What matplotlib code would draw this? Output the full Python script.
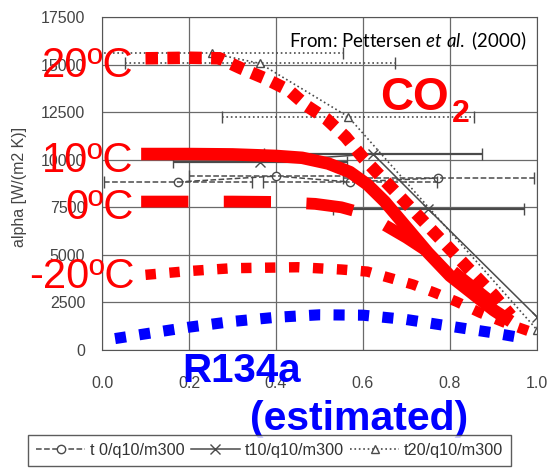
import numpy as np
import matplotlib.pyplot as plt

plt.rcParams['font.family'] = ['Liberation Sans', 'DejaVu Sans']
plt.rcParams['mathtext.fontset'] = 'custom'
plt.rcParams['mathtext.rm'] = 'Lato'
plt.rcParams['mathtext.it'] = 'Lato:italic'

# scanned measurements (Pettersen et al. 2000)
t0_x = [0.175, 0.40, 0.57, 0.773]
t0_y = [8830, 9140, 8830, 9040]
t0_err = [0.17, 0.2, 0.2, 0.22]
t10_x = [0.363, 0.623, 0.75, 1.0]
t10_y = [9900, 10300, 7400, 1740]
t10_err = [0.2, 0.25, 0.22]
t20_x = [0.253, 0.363, 0.566, 1.0]
t20_y = [15590, 15060, 12260, 1060]
t20_err = [0.3, 0.31, 0.29]

# hand drawn overlays
c20_x = [0.1, 0.2, 0.27, 0.32, 0.375, 0.43, 0.47, 0.515, 0.56, 0.6, 0.65, 0.7, 0.75, 0.8, 0.85, 0.9, 0.94]
c20_y = [15330, 15360, 15330, 14800, 14270, 13640, 12840, 12160, 11200, 10100, 8900, 7700, 6500, 5300, 4100, 2900, 1800]
c10_x = [0.09, 0.2, 0.3, 0.4, 0.46, 0.52, 0.57, 0.61, 0.65, 0.7, 0.75, 0.8, 0.85, 0.9, 0.94]
c10_y = [10300, 10300, 10280, 10200, 10100, 9800, 9350, 8700, 7800, 6450, 5100, 3900, 3000, 2100, 1500]
c0_x = [0.09, 0.2, 0.3, 0.4, 0.49, 0.55, 0.59, 0.64, 0.7, 0.76, 0.82, 0.88, 0.94]
c0_y = [7800, 7800, 7800, 7780, 7680, 7500, 7250, 6700, 5900, 5000, 3900, 2800, 1700]
cm20_x = [0.1, 0.2, 0.3, 0.45, 0.55, 0.61, 0.66, 0.715, 0.765, 0.815, 0.87, 0.93, 0.98]
cm20_y = [3950, 4150, 4300, 4350, 4230, 4120, 3800, 3440, 3010, 2540, 1950, 1400, 1000]
r134_x = [0.03, 0.1, 0.2, 0.3, 0.4, 0.5, 0.6, 0.7, 0.8, 0.9, 0.97]
r134_y = [600, 850, 1200, 1500, 1720, 1850, 1830, 1600, 1250, 900, 620]

x_ticks = [0.0, 0.2, 0.4, 0.6, 0.8, 1.0]
y_ticks = [0, 2500, 5000, 7500, 10000, 12500, 15000, 17500]

W, H = 553, 470
fig = plt.figure(figsize=(W / 100, H / 100), dpi=100)
ax = fig.add_axes([102 / W, 1 - 350 / H, 435 / W, 333 / H])

def px(x, y):
    return x / W, 1 - y / H

gray = '#4a4a4a'
ax.set_xlim(0, 1)
ax.set_ylim(0, 17500)
ax.set_xticks(x_ticks)
ax.set_xticklabels(['%.1f' % v for v in x_ticks])
ax.set_yticks(y_ticks)
ax.set_yticklabels([str(v) for v in y_ticks])
ax.tick_params(length=0, labelsize=11.5, labelcolor='#444444')
ax.tick_params(axis='x', pad=19)
ax.tick_params(axis='y', pad=12)
ax.grid(True, color='#6a6a6a', lw=0.9)
for s in ax.spines.values():
    s.set_color('#555555')
ax.set_ylabel('alpha [W/(m2 K)]', fontsize=11.5, color='#444444')
ax.yaxis.set_label_coords(-0.172, 0.49)

# scanned series
l0, = ax.plot(t0_x, t0_y, color=gray, ls='--', lw=1.1, marker='o', ms=6, mfc='white', mec=gray,
              label='t 0/q10/m300')
e = ax.errorbar(t0_x, t0_y, xerr=t0_err, fmt='none', ecolor=gray, elinewidth=1.1, capsize=4)
e[2][0].set_linestyle('--')
l10, = ax.plot(t10_x, t10_y, color=gray, ls='-', lw=1.1, marker='x', ms=7, mec=gray,
               label='t10/q10/m300')
ax.errorbar(t10_x[:-1], t10_y[:-1], xerr=t10_err, fmt='none', ecolor=gray, elinewidth=1.6, capsize=4)
l20, = ax.plot(t20_x, t20_y, color=gray, ls=':', lw=1.2, marker='^', ms=6, mfc='white', mec=gray,
               label='t20/q10/m300')
e = ax.errorbar(t20_x[:-1], t20_y[:-1], xerr=t20_err, fmt='none', ecolor=gray, elinewidth=1.2, capsize=4)
e[2][0].set_linestyle(':')

# overlays
red = '#ff0000'
ax.plot(cm20_x, cm20_y, color=red, lw=7.5, dashes=(1, 1.3), dash_capstyle='butt', clip_on=False)
ax.plot(c0_x, c0_y, color=red, lw=8.5, dashes=(4, 3), dash_capstyle='butt', clip_on=False)
ax.plot(c10_x, c10_y, color=red, lw=9, solid_capstyle='butt', clip_on=False)
ax.plot(c20_x, c20_y, color=red, lw=9, dashes=(1, 0.75), dash_capstyle='butt', clip_on=False)
ax.plot(r134_x, r134_y, color='#0000ff', lw=8, dashes=(1, 1.2), dash_capstyle='butt', clip_on=False)

# labels
fs = 30
fig.text(*px(42, 77), '20ºC', color=red, fontsize=fs, va='baseline')
fig.text(*px(42, 172), '10ºC', color=red, fontsize=fs, va='baseline')
fig.text(*px(65, 219), '0ºC', color=red, fontsize=fs, va='baseline')
fig.text(*px(29, 288), '-20ºC', color=red, fontsize=fs, va='baseline')
fig.text(*px(380, 110), 'CO', color=red, fontsize=33, fontweight='bold', va='baseline')
fig.text(*px(452, 122), '2', color=red, fontsize=23, fontweight='bold', va='baseline')
fig.text(*px(182, 382), 'R134a', color='#0000ff', fontsize=29, fontweight='bold', va='baseline')
fig.text(*px(250, 430), '(estimated)', color='#0000ff', fontsize=29.5, fontweight='bold', va='baseline')
fig.text(*px(289, 47), r'From: Pettersen $\mathit{et\ al.}$ (2000)', fontsize=13.4, color='black',
         va='baseline', family='Lato')

leg = fig.legend(handles=[l0, l10, l20], loc='upper left', bbox_to_anchor=px(28, 435), ncol=3,
                 fontsize=11.7, frameon=True, fancybox=False, handlelength=3, handletextpad=0.3,
                 columnspacing=0.4, borderpad=0.5, borderaxespad=0)
leg.get_frame().set_edgecolor('#333333')
leg.get_frame().set_linewidth(1)
for t in leg.get_texts():
    t.set_color('#333333')

fig.savefig('out.png', dpi=100)
